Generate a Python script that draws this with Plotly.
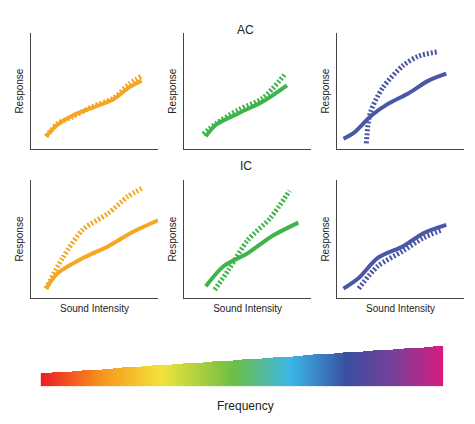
import plotly.graph_objects as go
import numpy as np

# top row (AC)
ac_o_sx = [1.2, 2.1, 3.3, 4.9, 6.5, 7.7, 8.7]; ac_o_sy = [1.1, 2.1, 2.9, 3.6, 4.3, 5.3, 5.9]
ac_o_dx = [1.2, 2.1, 3.3, 4.9, 6.5, 7.7, 8.7]; ac_o_dy = [1.1, 2.2, 2.8, 3.7, 4.4, 5.6, 6.3]
ac_g_sx = [1.7, 2.5, 4.3, 6.2, 8.1]; ac_g_sy = [1.1, 2.1, 3.1, 4.1, 5.5]
ac_g_dx = [1.5, 2.5, 4.3, 6.2, 7.9]; ac_g_dy = [1.3, 2.2, 3.4, 4.4, 6.4]
ac_b_sx = [0.5, 1.3, 2.7, 4.0, 5.6, 7.2, 8.6]; ac_b_sy = [0.9, 1.4, 2.9, 3.9, 4.8, 5.9, 6.5]
ac_b_dx = [2.3, 2.6, 3.6, 5.2, 6.4, 8.0]; ac_b_dy = [0.5, 3.1, 5.3, 7.2, 8.0, 8.4]
# bottom row (IC)
ic_o_sx = [1.2, 2.1, 4.1, 6.1, 8.0, 10.0]; ic_o_sy = [0.8, 2.1, 3.4, 4.4, 5.6, 6.6]
ic_o_dx = [1.2, 2.5, 4.1, 6.1, 7.6, 8.7]; ic_o_dy = [0.8, 3.4, 5.8, 7.2, 8.6, 9.3]
ic_g_sx = [1.7, 3.1, 5.0, 7.0, 9.0]; ic_g_sy = [1.0, 2.7, 3.8, 5.3, 6.4]
ic_g_dx = [2.4, 3.5, 5.0, 6.8, 8.3]; ic_g_dy = [0.7, 2.4, 4.9, 6.8, 9.1]
ic_b_sx = [0.5, 1.7, 3.2, 5.2, 6.8, 8.6]; ic_b_sy = [0.8, 1.7, 3.4, 4.4, 5.5, 6.2]
ic_b_dx = [1.7, 3.2, 5.2, 6.8, 8.3]; ic_b_dy = [0.8, 2.7, 4.0, 5.1, 5.8]

colors = ["#F5A623", "#3DB54A", "#4A56A6"]
freq_stops = [(0, "#ED1C24"), (0.15, "#F7941D"), (0.3, "#F2E33A"), (0.48, "#6CBE45"),
              (0.62, "#3BB6E8"), (0.76, "#3A4EA0"), (0.88, "#7B3F98"), (1, "#D91B7E")]

panels = [
    (ac_o_sx, ac_o_sy, ac_o_dx, ac_o_dy), (ac_g_sx, ac_g_sy, ac_g_dx, ac_g_dy), (ac_b_sx, ac_b_sy, ac_b_dx, ac_b_dy),
    (ic_o_sx, ic_o_sy, ic_o_dx, ic_o_dy), (ic_g_sx, ic_g_sy, ic_g_dx, ic_g_dy), (ic_b_sx, ic_b_sy, ic_b_dx, ic_b_dy),
]
xdoms = [[0.048, 0.316], [0.371, 0.638], [0.693, 0.960]]
ydoms = [[0.667, 0.941], [0.316, 0.594]]

fig = go.Figure()
layout = dict(width=475, height=424, margin=dict(l=0, r=0, t=0, b=0), showlegend=False,
              paper_bgcolor="white", plot_bgcolor="white",
              font=dict(family="Liberation Sans, Arial", color="#222", size=10))
for i, (sx, sy, dx, dy) in enumerate(panels):
    n = i + 1
    xa, ya = f"x{n}", f"y{n}"
    c = colors[i % 3]
    fig.add_trace(go.Scatter(x=dx, y=dy, mode="lines", xaxis=xa, yaxis=ya,
                             line=dict(color=c, width=5, dash="2px,2px", shape="spline", smoothing=0.8)))
    fig.add_trace(go.Scatter(x=sx, y=sy, mode="lines", xaxis=xa, yaxis=ya,
                             line=dict(color=c, width=4, shape="spline", smoothing=0.8)))
    row = i // 3
    ax = dict(domain=xdoms[i % 3], range=[0, 10], showline=True, linecolor="#444", linewidth=1,
              showgrid=False, zeroline=False, showticklabels=False, ticks="", automargin=False)
    ay = dict(domain=ydoms[row], range=[0, 10], showline=True, linecolor="#444", linewidth=1,
              showgrid=False, zeroline=False, showticklabels=False, ticks="", automargin=False,
              title=dict(text="Response", font=dict(size=10), standoff=4), anchor=xa)
    ax["anchor"] = ya
    if row == 1:
        ax["title"] = dict(text="Sound Intensity", font=dict(size=10), standoff=6)
    layout["xaxis" if n == 1 else f"xaxis{n}"] = ax
    layout["yaxis" if n == 1 else f"yaxis{n}"] = ay

# frequency wedge
gx = np.linspace(0, 1, 300)
gy = np.linspace(0, 1, 60)
z = [[xv if yv <= 0.32 + 0.68 * xv else None for xv in gx] for yv in gy]
fig.add_trace(go.Heatmap(x=gx, y=gy, z=z, xaxis="x7", yaxis="y7", showscale=False,
                         colorscale=[[p, c] for p, c in freq_stops], zmin=0, zmax=1, hoverinfo="skip"))
layout["xaxis7"] = dict(domain=[0.069, 0.916], range=[0, 1], visible=False, anchor="y7", automargin=False)
layout["yaxis7"] = dict(domain=[0.108, 0.203], range=[0, 1], visible=False, anchor="x7", automargin=False)
layout["annotations"] = [
    dict(text="AC", x=0.5, y=1 - 13 / 424, xref="paper", yref="paper", showarrow=False, font=dict(size=12)),
    dict(text="IC", x=0.5, y=1 - 158 / 424, xref="paper", yref="paper", showarrow=False, font=dict(size=12)),
    dict(text="Frequency", x=0.5, y=1 - 407 / 424, xref="paper", yref="paper", showarrow=False, font=dict(size=12)),
]
fig.update_layout(**layout)
fig.write_html("out.html")
